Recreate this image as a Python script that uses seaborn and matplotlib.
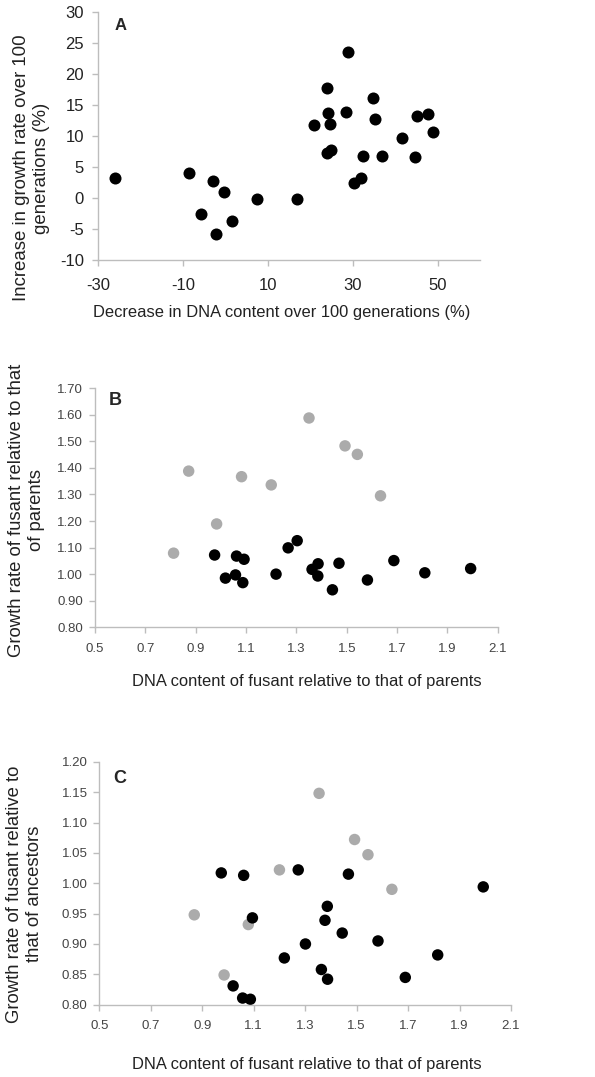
import matplotlib
matplotlib.use("Agg")
import matplotlib.pyplot as plt
import pandas as pd
import seaborn as sns

# panel A: decrease in DNA content vs increase in growth rate (%)
a_dna = [-26.1, -8.5, -3.0, -0.3, -5.7, -2.2, 1.5, 7.5, 16.9, 20.9, 23.9, 24.1, 24.7,
         24.0, 25.0, 29.0, 28.5, 30.2, 32.0, 32.4, 34.7, 35.2, 37.0, 41.7, 44.7, 45.1,
         47.8, 48.9]
a_growth = [3.2, 4.1, 2.8, 0.9, -2.6, -5.8, -3.7, -0.2, -0.2, 11.8, 17.7, 13.7, 12.0,
            7.3, 7.8, 23.6, 13.8, 2.4, 3.2, 6.8, 16.1, 12.7, 6.8, 9.6, 6.6, 13.2, 13.6,
            10.7]

# panel B: relative to parents
b_dna_grey = [0.812, 0.872, 0.983, 1.082, 1.200, 1.350, 1.493, 1.542, 1.634]
b_growth_grey = [1.079, 1.388, 1.189, 1.367, 1.336, 1.588, 1.483, 1.451, 1.295]
b_dna_black = [0.975, 1.018, 1.058, 1.062, 1.092, 1.087, 1.219, 1.267, 1.303, 1.362,
               1.386, 1.385, 1.443, 1.469, 1.582, 1.687, 1.810, 1.992]
b_growth_black = [1.072, 0.985, 0.997, 1.068, 1.056, 0.968, 1.000, 1.099, 1.126, 1.018,
                  1.039, 0.993, 0.941, 1.041, 0.978, 1.051, 1.005, 1.021]

# panel C: relative to ancestors
c_dna_grey = [0.869, 0.985, 1.079, 1.200, 1.354, 1.492, 1.544, 1.637]
c_growth_grey = [0.948, 0.849, 0.932, 1.022, 1.148, 1.072, 1.047, 0.990]
c_dna_black = [0.974, 1.061, 1.095, 1.020, 1.057, 1.087, 1.219, 1.273, 1.301, 1.363,
               1.387, 1.377, 1.386, 1.444, 1.468, 1.583, 1.689, 1.815, 1.992]
c_growth_black = [1.017, 1.013, 0.943, 0.831, 0.811, 0.809, 0.877, 1.022, 0.900, 0.858,
                  0.842, 0.939, 0.962, 0.918, 1.015, 0.905, 0.845, 0.882, 0.994]

xticks_rel = ['0.5', '0.7', '0.9', '1.1', '1.3', '1.5', '1.7', '1.9', '2.1']

sns.set_style("white")
plt.rcParams['font.family'] = ['Liberation Sans', 'DejaVu Sans']
plt.rcParams['axes.unicode_minus'] = False

GREY = '#ababab'
SPINE = '#bdbdbd'

fig = plt.figure(figsize=(5.95, 10.77), dpi=100)
axA = fig.add_axes([0.1647, 0.7586, 0.642, 0.2303])
axB = fig.add_axes([0.1597, 0.4176, 0.677, 0.2219])
axC = fig.add_axes([0.1669, 0.0671, 0.692, 0.2256])


def style_axes(ax, tick_size, tick_color, xpad, ypad):
    for side in ['top', 'right']:
        ax.spines[side].set_visible(False)
    for side in ['left', 'bottom']:
        ax.spines[side].set_color(SPINE)
        ax.spines[side].set_linewidth(1.0)
    ax.tick_params(axis='both', direction='out', length=4, width=1.0, color=SPINE,
                   labelsize=tick_size, labelcolor=tick_color)
    ax.tick_params(axis='x', pad=xpad)
    ax.tick_params(axis='y', pad=ypad)
    ax.tick_params(left=True, bottom=True)


# A
dfA = pd.DataFrame({'dna': a_dna, 'growth': a_growth})
sns.scatterplot(data=dfA, x='dna', y='growth', ax=axA, color='black', s=75,
                edgecolor='black', linewidth=0)
axA.set_xlim(-30, 60)
axA.set_ylim(-10, 30)
axA.set_xticks([-30, -10, 10, 30, 50])
axA.set_yticks(range(-10, 31, 5))
style_axes(axA, 12, '#222222', 9, 6)
axA.set_xlabel('Decrease in DNA content over 100 generations (%)', fontsize=11.9,
               color='#222222')
axA.set_ylabel('Increase in growth rate over 100\ngenerations (%)', fontsize=13.4,
               color='#222222', multialignment='center')
axA.xaxis.set_label_coords(0.482, -0.18)
axA.yaxis.set_label_coords(-0.126, 0.371)
axA.text(0.06, 0.945, 'A', transform=axA.transAxes, fontsize=12, fontweight='bold',
         va='center', ha='center')

# B
dfB = pd.concat([
    pd.DataFrame({'dna': b_dna_grey, 'growth': b_growth_grey, 'grp': 'grey'}),
    pd.DataFrame({'dna': b_dna_black, 'growth': b_growth_black, 'grp': 'black'}),
])
sns.scatterplot(data=dfB, x='dna', y='growth', hue='grp', palette={'grey': GREY, 'black': 'black'},
                ax=axB, s=68, linewidth=0, legend=False)
axB.set_xlim(0.5, 2.1)
axB.set_ylim(0.8, 1.7)
axB.set_xticks([0.5, 0.7, 0.9, 1.1, 1.3, 1.5, 1.7, 1.9, 2.1])
axB.set_xticklabels(xticks_rel)
yb = [0.8, 0.9, 1.0, 1.1, 1.2, 1.3, 1.4, 1.5, 1.6, 1.7]
axB.set_yticks(yb)
axB.set_yticklabels(['%.2f' % v for v in yb])
style_axes(axB, 9.5, '#444444', 7, 4.5)
axB.set_xlabel('DNA content of fusant relative to that of parents', fontsize=11.9,
               color='#222222')
axB.set_ylabel('Growth rate of fusant relative to that\nof parents', fontsize=13.3,
               color='#222222', multialignment='center')
axB.xaxis.set_label_coords(0.526, -0.195)
axB.yaxis.set_label_coords(-0.124, 0.49)
axB.text(0.05, 0.95, 'B', transform=axB.transAxes, fontsize=13, fontweight='bold',
         va='center', ha='center')

# C
dfC = pd.concat([
    pd.DataFrame({'dna': c_dna_grey, 'growth': c_growth_grey, 'grp': 'grey'}),
    pd.DataFrame({'dna': c_dna_black, 'growth': c_growth_black, 'grp': 'black'}),
])
sns.scatterplot(data=dfC, x='dna', y='growth', hue='grp', palette={'grey': GREY, 'black': 'black'},
                ax=axC, s=68, linewidth=0, legend=False, clip_on=False)
axC.set_xlim(0.5, 2.1)
axC.set_ylim(0.8, 1.2)
axC.set_xticks([0.5, 0.7, 0.9, 1.1, 1.3, 1.5, 1.7, 1.9, 2.1])
axC.set_xticklabels(xticks_rel)
yc = [0.80, 0.85, 0.90, 0.95, 1.00, 1.05, 1.10, 1.15, 1.20]
axC.set_yticks(yc)
axC.set_yticklabels(['%.2f' % v for v in yc])
style_axes(axC, 9.5, '#444444', 7, 4.5)
axC.set_xlabel('DNA content of fusant relative to that of parents', fontsize=11.9,
               color='#222222')
axC.set_ylabel('Growth rate of fusant relative to\nthat of ancestors', fontsize=13.3,
               color='#222222', multialignment='center')
axC.xaxis.set_label_coords(0.504, -0.215)
axC.yaxis.set_label_coords(-0.137, 0.456)
axC.text(0.05, 0.93, 'C', transform=axC.transAxes, fontsize=13, fontweight='bold',
         va='center', ha='center')

fig.savefig('out.png', dpi=100)
